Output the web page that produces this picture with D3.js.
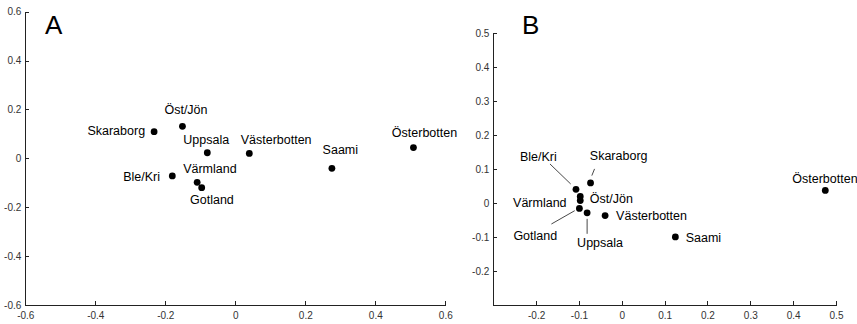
<!DOCTYPE html>
<html><head><meta charset="utf-8">
<script src="https://cdn.jsdelivr.net/npm/d3@7"></script>
<style>
body{margin:0;background:#fff;}
svg{display:block;font-family:"Liberation Sans",Arial,Helvetica,sans-serif;}
.axis path,.axis line{stroke:#222;stroke-width:1;shape-rendering:crispEdges;}
.axis text{fill:#333;font-size:10px;font-family:"Liberation Sans",Arial,sans-serif;}
</style></head>
<body>
<svg id="chart" width="857" height="324"></svg>
<script>
// ---- data ----
const namesA = ["Skaraborg","Öst/Jön","Uppsala","Västerbotten","Saami","Österbotten","Ble/Kri","Värmland","Gotland"];
const xA = [-0.232,-0.151,-0.080,0.040,0.276,0.509,-0.180,-0.109,-0.096];
const yA = [0.109,0.131,0.023,0.020,-0.041,0.044,-0.072,-0.098,-0.120];
const ticksAx = [-0.6,-0.4,-0.2,0,0.2,0.4,0.6];
const ticksAy = [-0.6,-0.4,-0.2,0,0.2,0.4,0.6];

const namesB = ["Ble/Kri","Skaraborg","Öst/Jön","Värmland","Gotland","Uppsala","Västerbotten","Saami","Österbotten"];
const xB = [-0.107,-0.073,-0.097,-0.097,-0.099,-0.081,-0.039,0.125,0.475];
const yB = [0.041,0.060,0.020,0.008,-0.015,-0.028,-0.036,-0.099,0.038];
const ticksBx = [-0.2,-0.1,0,0.1,0.2,0.3,0.4,0.5];
const ticksBy = [-0.2,-0.1,0,0.1,0.2,0.3,0.4,0.5];

// ---- layout (label placement relative to each point, in px) ----
const layoutA = {
  "Skaraborg":{a:"end",dx:-9,dy:3.7},
  "Öst/Jön":{a:"start",dx:-18,dy:-12},
  "Uppsala":{a:"start",dx:-24,dy:-8.3},
  "Västerbotten":{a:"start",dx:-8.6,dy:-9},
  "Saami":{a:"start",dx:-9.3,dy:-14},
  "Österbotten":{a:"start",dx:-21.6,dy:-10.3},
  "Ble/Kri":{a:"end",dx:-12.3,dy:5},
  "Värmland":{a:"start",dx:-14,dy:-9.3},
  "Gotland":{a:"start",dx:-11.7,dy:16}
};
const layoutB = {
  "Ble/Kri":{a:"start",dx:-56,dy:-28.7,lead:[-26,-25.4,-5.3,-5.4]},
  "Skaraborg":{a:"start",dx:-0.7,dy:-23,lead:[4,-14,1.3,-7.3]},
  "Öst/Jön":{a:"start",dx:9.6,dy:6.7},
  "Värmland":{a:"end",dx:-13.7,dy:6},
  "Gotland":{a:"start",dx:-66,dy:31.6,lead:[-28,15.6,-4.7,2.3]},
  "Uppsala":{a:"start",dx:-10,dy:34.4,lead:[0,6,0,21]},
  "Västerbotten":{a:"start",dx:11,dy:4.3},
  "Saami":{a:"start",dx:10.3,dy:5.4},
  "Österbotten":{a:"start",dx:-33,dy:-7.4}
};

const svg = d3.select("#chart");

function panel(cfg){
  const x = d3.scaleLinear().domain(cfg.xd).range(cfg.xr);
  const y = d3.scaleLinear().domain(cfg.yd).range(cfg.yr);
  const g = svg.append("g");
  g.append("g").attr("class","axis")
    .attr("transform",`translate(0,${cfg.yr[0]})`)
    .call(d3.axisBottom(x).tickValues(cfg.tx).tickFormat(d3.format("~g"))
      .tickSizeInner(-4).tickSizeOuter(0).tickPadding(7));
  g.append("g").attr("class","axis")
    .attr("transform",`translate(${cfg.xr[0]},0)`)
    .call(d3.axisLeft(y).tickValues(cfg.ty).tickFormat(d3.format("~g"))
      .tickSizeInner(-4).tickSizeOuter(0).tickPadding(4));
  g.selectAll(".axis text").text(function(){return this.textContent.replace("−","-");});

  const data = cfg.names.map((n,i)=>({n, x:cfg.xs[i], y:cfg.ys[i], L:cfg.layout[n]}));
  g.selectAll("line.lead").data(data.filter(d=>d.L.lead)).join("line")
    .attr("class","lead")
    .attr("x1",d=>x(d.x)+d.L.lead[0]).attr("y1",d=>y(d.y)+d.L.lead[1])
    .attr("x2",d=>x(d.x)+d.L.lead[2]).attr("y2",d=>y(d.y)+d.L.lead[3])
    .attr("stroke","#333").attr("stroke-width",0.9);
  g.selectAll("circle").data(data).join("circle")
    .attr("cx",d=>x(d.x)).attr("cy",d=>y(d.y)).attr("r",3.4).attr("fill","#000");
  g.selectAll("text.lab").data(data).join("text")
    .attr("class","lab")
    .attr("x",d=>x(d.x)+d.L.dx).attr("y",d=>y(d.y)+d.L.dy)
    .attr("text-anchor",d=>d.L.a)
    .attr("font-size",12.5).attr("fill","#000")
    .text(d=>d.n);
  g.append("text").attr("x",cfg.title[0]).attr("y",cfg.title[1])
    .attr("font-size",26).attr("fill","#000").text(cfg.title[2]);
}

panel({xd:[-0.6,0.6], xr:[25.3,445.3], yd:[-0.6,0.6], yr:[305,11.7],
  tx:ticksAx, ty:ticksAy, names:namesA, xs:xA, ys:yA, layout:layoutA, title:[45,33.5,"A"]});
panel({xd:[-0.3,0.5], xr:[493.3,836], yd:[-0.3,0.5], yr:[305.3,33.3],
  tx:ticksBx, ty:ticksBy, names:namesB, xs:xB, ys:yB, layout:layoutB, title:[522,33.5,"B"]});
</script>
</body></html>
